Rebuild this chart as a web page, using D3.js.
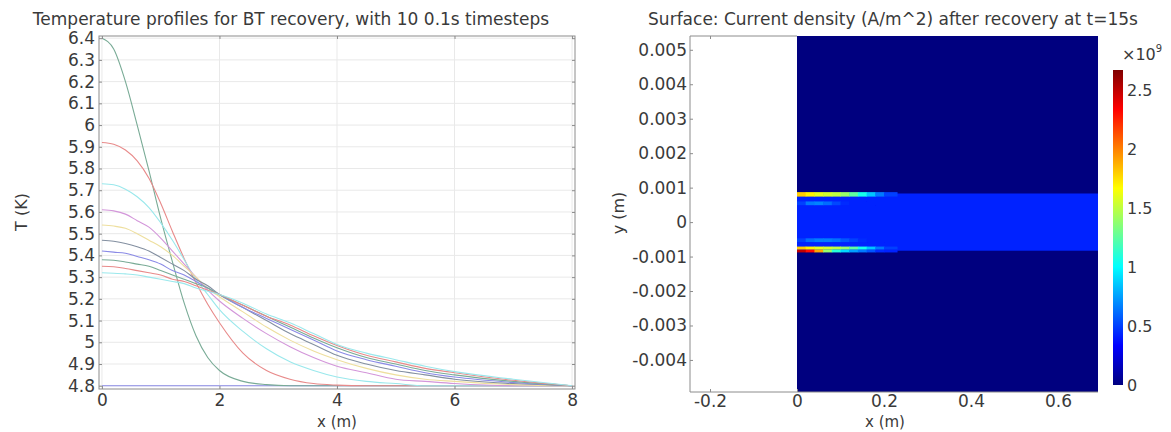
<!DOCTYPE html>
<html>
<head>
<meta charset="utf-8">
<script src="https://cdn.jsdelivr.net/npm/d3@7"></script>
<style>
  body { margin: 0; background: #fff; }
  svg { display: block; font-family: "DejaVu Sans", sans-serif; }
</style>
</head>
<body>
<svg id="chart" width="1171" height="432"></svg>
<script>
// ---- left plot data: temperature profiles ----
const xPos = [0, 0.2, 0.4, 0.6, 0.8, 1.0, 1.2, 1.4, 1.6, 1.8, 2.0, 2.4, 2.8, 3.2, 3.6, 4.0, 4.5, 5.0, 5.5, 6.0, 7.0, 8.0];
const tStart = [4.8, 4.8, 4.8, 4.8, 4.8, 4.8, 4.8, 4.8, 4.8, 4.8, 4.8, 4.8, 4.8, 4.8, 4.8, 4.8, 4.8, 4.8, 4.8, 4.8, 4.8, 4.8];
const tStep1 = [6.40, 6.35, 6.20, 6.00, 5.79, 5.57, 5.37, 5.18, 5.03, 4.93, 4.87, 4.82, 4.805, 4.80, 4.80, 4.80, 4.80, 4.80, 4.80, 4.80, 4.80, 4.80];
const tStep2 = [5.92, 5.912, 5.885, 5.835, 5.755, 5.64, 5.51, 5.385, 5.275, 5.175, 5.09, 4.95, 4.87, 4.83, 4.81, 4.803, 4.80, 4.80, 4.80, 4.80, 4.80, 4.80];
const tStep3 = [5.73, 5.725, 5.705, 5.67, 5.62, 5.55, 5.47, 5.38, 5.29, 5.22, 5.15, 5.05, 4.97, 4.91, 4.87, 4.84, 4.82, 4.81, 4.80, 4.80, 4.80, 4.80];
const tStep4 = [5.61, 5.605, 5.59, 5.56, 5.53, 5.48, 5.42, 5.36, 5.30, 5.24, 5.19, 5.11, 5.04, 4.98, 4.93, 4.89, 4.86, 4.83, 4.82, 4.81, 4.80, 4.80];
const tStep5 = [5.54, 5.535, 5.525, 5.50, 5.47, 5.44, 5.40, 5.35, 5.30, 5.25, 5.21, 5.14, 5.07, 5.01, 4.96, 4.92, 4.88, 4.85, 4.83, 4.82, 4.805, 4.80];
const tStep6 = [5.47, 5.465, 5.455, 5.44, 5.42, 5.39, 5.36, 5.33, 5.29, 5.26, 5.22, 5.16, 5.10, 5.04, 4.99, 4.94, 4.90, 4.87, 4.85, 4.83, 4.81, 4.80];
const tStep7 = [5.42, 5.415, 5.41, 5.395, 5.38, 5.36, 5.33, 5.31, 5.28, 5.25, 5.22, 5.16, 5.11, 5.06, 5.01, 4.96, 4.92, 4.89, 4.86, 4.84, 4.815, 4.80];
const tStep8 = [5.38, 5.378, 5.37, 5.36, 5.35, 5.33, 5.31, 5.29, 5.27, 5.25, 5.22, 5.17, 5.12, 5.07, 5.02, 4.975, 4.93, 4.90, 4.87, 4.85, 4.82, 4.80];
const tStep9 = [5.35, 5.348, 5.34, 5.33, 5.32, 5.31, 5.29, 5.28, 5.26, 5.24, 5.22, 5.17, 5.12, 5.08, 5.03, 4.985, 4.94, 4.91, 4.88, 4.86, 4.825, 4.80];
const tStep10 = [5.32, 5.318, 5.315, 5.31, 5.30, 5.29, 5.28, 5.27, 5.25, 5.235, 5.22, 5.18, 5.13, 5.09, 5.04, 4.99, 4.95, 4.92, 4.89, 4.865, 4.83, 4.80];
const profiles = [tStart, tStep1, tStep2, tStep3, tStep4, tStep5, tStep6, tStep7, tStep8, tStep9, tStep10];
// COMSOL colour cycle: blue, green, red, cyan, magenta, yellow, black
const lineColors = ["#8a8ae6", "#79ab96", "#e88a8a", "#9ae8ec", "#d396da", "#eedf9e", "#838fa0",
                    "#8a8ae6", "#79ab96", "#e88a8a", "#9ae8ec"];
const tTicks = [4.8, 4.9, 5, 5.1, 5.2, 5.3, 5.4, 5.5, 5.6, 5.7, 5.8, 5.9, 6, 6.1, 6.2, 6.3, 6.4];
const xTicksLeft = [0, 2, 4, 6, 8];

// ---- right plot data: current density field (x1e9 A/m^2) ----
const cellX = [0, 0.02, 0.04, 0.06, 0.08, 0.10, 0.12, 0.14, 0.16, 0.18, 0.20, 0.23];
const stripeTop = [1.8, 1.7, 1.6, 1.55, 1.5, 1.4, 1.25, 1.05, 0.85, 0.65, 0.5];
const stripeBottom = [1.8, 1.7, 1.6, 1.55, 1.5, 1.4, 1.25, 1.05, 0.85, 0.65, 0.5];
const stripeBottomEdge = [2.5, 2.3, 1.9, 1.4, 1.1, 0.9, 0.75, 0.65, 0.55, 0.45, 0.42];
const spotTop = [0.5, 0.65, 0.68, 0.62, 0.52, 0.45, 0.42, 0.42, 0.42, 0.42, 0.42];
const spotBottom = [0.5, 0.62, 0.66, 0.66, 0.63, 0.56, 0.5, 0.45, 0.42, 0.42, 0.42];
const bandValue = 0.42;
const backgroundValue = 0;
const jetStops = ["#00007f", "#0000ff", "#00ffff", "#ffff00", "#ff0000", "#7f0000"];
const jetPos = [0, 0.125, 0.375, 0.625, 0.875, 1];
const colorMax = 2.67;
const cbTicks = [0, 0.5, 1, 1.5, 2, 2.5];
const yTicksRight = [-0.004, -0.003, -0.002, -0.001, 0, 0.001, 0.002, 0.003, 0.004, 0.005];
const xTicksRight = [-0.2, 0, 0.2, 0.4, 0.6];

const svg = d3.select("#chart");
const textCol = "#3a3a3a", frameCol = "#8c8c8c", gridCol = "#e9e9e9";
const fs = 17;

// ================= left plot =================
const xL = d3.scaleLinear().domain([-0.05, 8.05]).range([99, 575]);
const yL = d3.scaleLinear().domain([4.785, 6.41]).range([389, 36]);
const left = svg.append("g");

left.append("g").selectAll("line").data(tTicks).join("line")
  .attr("x1", xL.range()[0]).attr("x2", xL.range()[1])
  .attr("y1", d => yL(d)).attr("y2", d => yL(d))
  .attr("stroke", gridCol);
left.append("g").selectAll("line").data(xTicksLeft).join("line")
  .attr("x1", d => xL(d)).attr("x2", d => xL(d))
  .attr("y1", yL.range()[0]).attr("y2", yL.range()[1])
  .attr("stroke", gridCol);

const line = d3.line()
  .x((d, i) => xL(xPos[i]))
  .y(d => yL(d))
  .curve(d3.curveMonotoneX);
left.append("g").selectAll("path").data(profiles).join("path")
  .attr("d", line)
  .attr("fill", "none")
  .attr("stroke", (d, i) => lineColors[i])
  .attr("stroke-width", 1.1);

left.append("rect")
  .attr("x", xL.range()[0]).attr("y", yL.range()[1])
  .attr("width", xL.range()[1] - xL.range()[0]).attr("height", yL.range()[0] - yL.range()[1])
  .attr("fill", "none").attr("stroke", frameCol);

const axL = left.append("g").attr("transform", `translate(${xL.range()[0]},0)`)
  .call(d3.axisLeft(yL).tickValues(tTicks).tickSize(-3).tickPadding(4).tickFormat(d => +d.toFixed(1)));
const axR = left.append("g").attr("transform", `translate(${xL.range()[1]},0)`)
  .call(d3.axisRight(yL).tickValues(tTicks).tickSize(-3).tickFormat(""));
const axB = left.append("g").attr("transform", `translate(0,${yL.range()[0]})`)
  .call(d3.axisBottom(xL).tickValues(xTicksLeft).tickSize(-3).tickPadding(5).tickFormat(d3.format("d")));
const axT = left.append("g").attr("transform", `translate(0,${yL.range()[1]})`)
  .call(d3.axisTop(xL).tickValues(xTicksLeft).tickSize(-3).tickFormat(""));
[axL, axR, axB, axT].forEach(a => {
  a.select(".domain").remove();
  a.selectAll("line").attr("stroke", frameCol);
  a.selectAll("text").attr("fill", textCol).style("font-size", fs + "px").style("font-family", "DejaVu Sans");
});

left.append("text").attr("x", 291).attr("y", 25).attr("text-anchor", "middle")
  .attr("fill", textCol).style("font-size", "17px")
  .text("Temperature profiles for BT recovery, with 10 0.1s timesteps");
left.append("text").attr("x", xL(4)).attr("y", 427).attr("text-anchor", "middle")
  .attr("fill", textCol).style("font-size", "15px").text("x (m)");
left.append("text").attr("transform", `translate(27,212) rotate(-90)`).attr("text-anchor", "middle")
  .attr("fill", textCol).style("font-size", "16px").text("T (K)");

// ================= right plot =================
const xR = d3.scaleLinear().domain([-0.246, 0.692]).range([690, 1098]);
const yR = d3.scaleLinear().domain([-0.00493, 0.0054]).range([392, 36]);
const jet = d3.scaleLinear().domain(jetPos.map(p => p * colorMax)).range(jetStops).clamp(true);
const right = svg.append("g");

const defs = svg.append("defs");
defs.append("clipPath").attr("id", "fieldClip").append("rect")
  .attr("x", xR(0)).attr("y", yR.range()[1])
  .attr("width", xR.range()[1] - xR(0)).attr("height", yR.range()[0] - yR.range()[1]);
defs.append("filter").attr("id", "soft").attr("x", "-5%").attr("y", "-5%").attr("width", "110%").attr("height", "110%")
  .append("feGaussianBlur").attr("stdDeviation", 0.7);

const field = right.append("g").attr("clip-path", "url(#fieldClip)");
field.append("rect")
  .attr("x", xR(0)).attr("y", yR.range()[1])
  .attr("width", xR.range()[1] - xR(0)).attr("height", yR.range()[0] - yR.range()[1])
  .attr("fill", jet(backgroundValue));
const soft = field.append("g").attr("filter", "url(#soft)");
// conducting band
soft.append("rect")
  .attr("x", xR(-0.01)).attr("y", yR(0.00083))
  .attr("width", xR(0.7) - xR(-0.01)).attr("height", yR(-0.00083) - yR(0.00083))
  .attr("fill", jet(bandValue));
// rows of cells: [values, yTop, yBottom]
const rows = [
  [spotTop, 0.00060, 0.00049],
  [spotBottom, -0.00047, -0.00058],
  [stripeTop, 0.00087, 0.00074],
  [stripeBottom, -0.00071, -0.00080],
  [stripeBottomEdge, -0.00080, -0.00088]
];
rows.forEach(([vals, y0, y1]) => {
  soft.append("g").selectAll("rect").data(vals).join("rect")
    .attr("x", (d, i) => xR(i === 0 ? -0.01 : cellX[i]))
    .attr("width", (d, i) => xR(cellX[i + 1]) - xR(i === 0 ? -0.01 : cellX[i]) + 0.5)
    .attr("y", yR(y0)).attr("height", yR(y1) - yR(y0))
    .attr("fill", d => jet(d));
});

// frame of the right plot
right.append("path")
  .attr("d", `M${xR(0)},${yR.range()[1]}H${xR.range()[0]}V${yR.range()[0]}H${xR.range()[1]}`)
  .attr("fill", "none").attr("stroke", frameCol);

const rAxL = right.append("g").attr("transform", `translate(${xR.range()[0]},0)`)
  .call(d3.axisLeft(yR).tickValues(yTicksRight).tickSize(-3).tickPadding(3)
    .tickFormat(d => Math.abs(d) < 1e-12 ? "0" : d.toFixed(3)));
const rAxB = right.append("g").attr("transform", `translate(0,${yR.range()[0]})`)
  .call(d3.axisBottom(xR).tickValues(xTicksRight).tickSize(-3).tickPadding(3)
    .tickFormat(d => d === 0 ? "0" : d.toFixed(1)));
const rAxT = right.append("g").attr("transform", `translate(0,${yR.range()[1]})`)
  .call(d3.axisTop(xR).tickValues([-0.2]).tickSize(-3).tickFormat(""));
[rAxL, rAxB, rAxT].forEach(a => {
  a.select(".domain").remove();
  a.selectAll("line").attr("stroke", frameCol);
  a.selectAll("text").attr("fill", textCol).style("font-size", fs + "px").style("font-family", "DejaVu Sans");
});
rAxB.selectAll(".tick").filter(d => d > 0).select("line").remove();

right.append("text").attr("x", 893).attr("y", 25).attr("text-anchor", "middle")
  .attr("fill", textCol).style("font-size", "17px")
  .text("Surface: Current density (A/m^2) after recovery at t=15s");
right.append("text").attr("x", 885).attr("y", 427).attr("text-anchor", "middle")
  .attr("fill", textCol).style("font-size", "15px").text("x (m)");
right.append("text").attr("transform", `translate(624,213) rotate(-90)`).attr("text-anchor", "middle")
  .attr("fill", textCol).style("font-size", "16px").text("y (m)");

// ---- colour bar ----
const cbY = d3.scaleLinear().domain([0, colorMax]).range([385, 70]);
const grad = defs.append("linearGradient").attr("id", "jetGrad")
  .attr("x1", 0).attr("y1", 1).attr("x2", 0).attr("y2", 0);
grad.selectAll("stop").data(jetPos).join("stop")
  .attr("offset", d => d).attr("stop-color", (d, i) => jetStops[i]);
right.append("rect").attr("x", 1113).attr("y", cbY(colorMax))
  .attr("width", 10).attr("height", cbY(0) - cbY(colorMax))
  .attr("fill", "url(#jetGrad)");
const cbAx = right.append("g").attr("transform", "translate(1123,0)")
  .call(d3.axisRight(cbY).tickValues(cbTicks).tickSize(0).tickPadding(4).tickFormat(d => String(d)));
cbAx.select(".domain").remove();
cbAx.selectAll("text").attr("fill", textCol).style("font-size", "16px").style("font-family", "DejaVu Sans");
const mult = right.append("text").attr("x", 1122).attr("y", 60).attr("fill", textCol).style("font-size", "16px");
mult.append("tspan").text("\u00d710");
mult.append("tspan").attr("dy", -8).style("font-size", "10px").text("9");
</script>
</body>
</html>
